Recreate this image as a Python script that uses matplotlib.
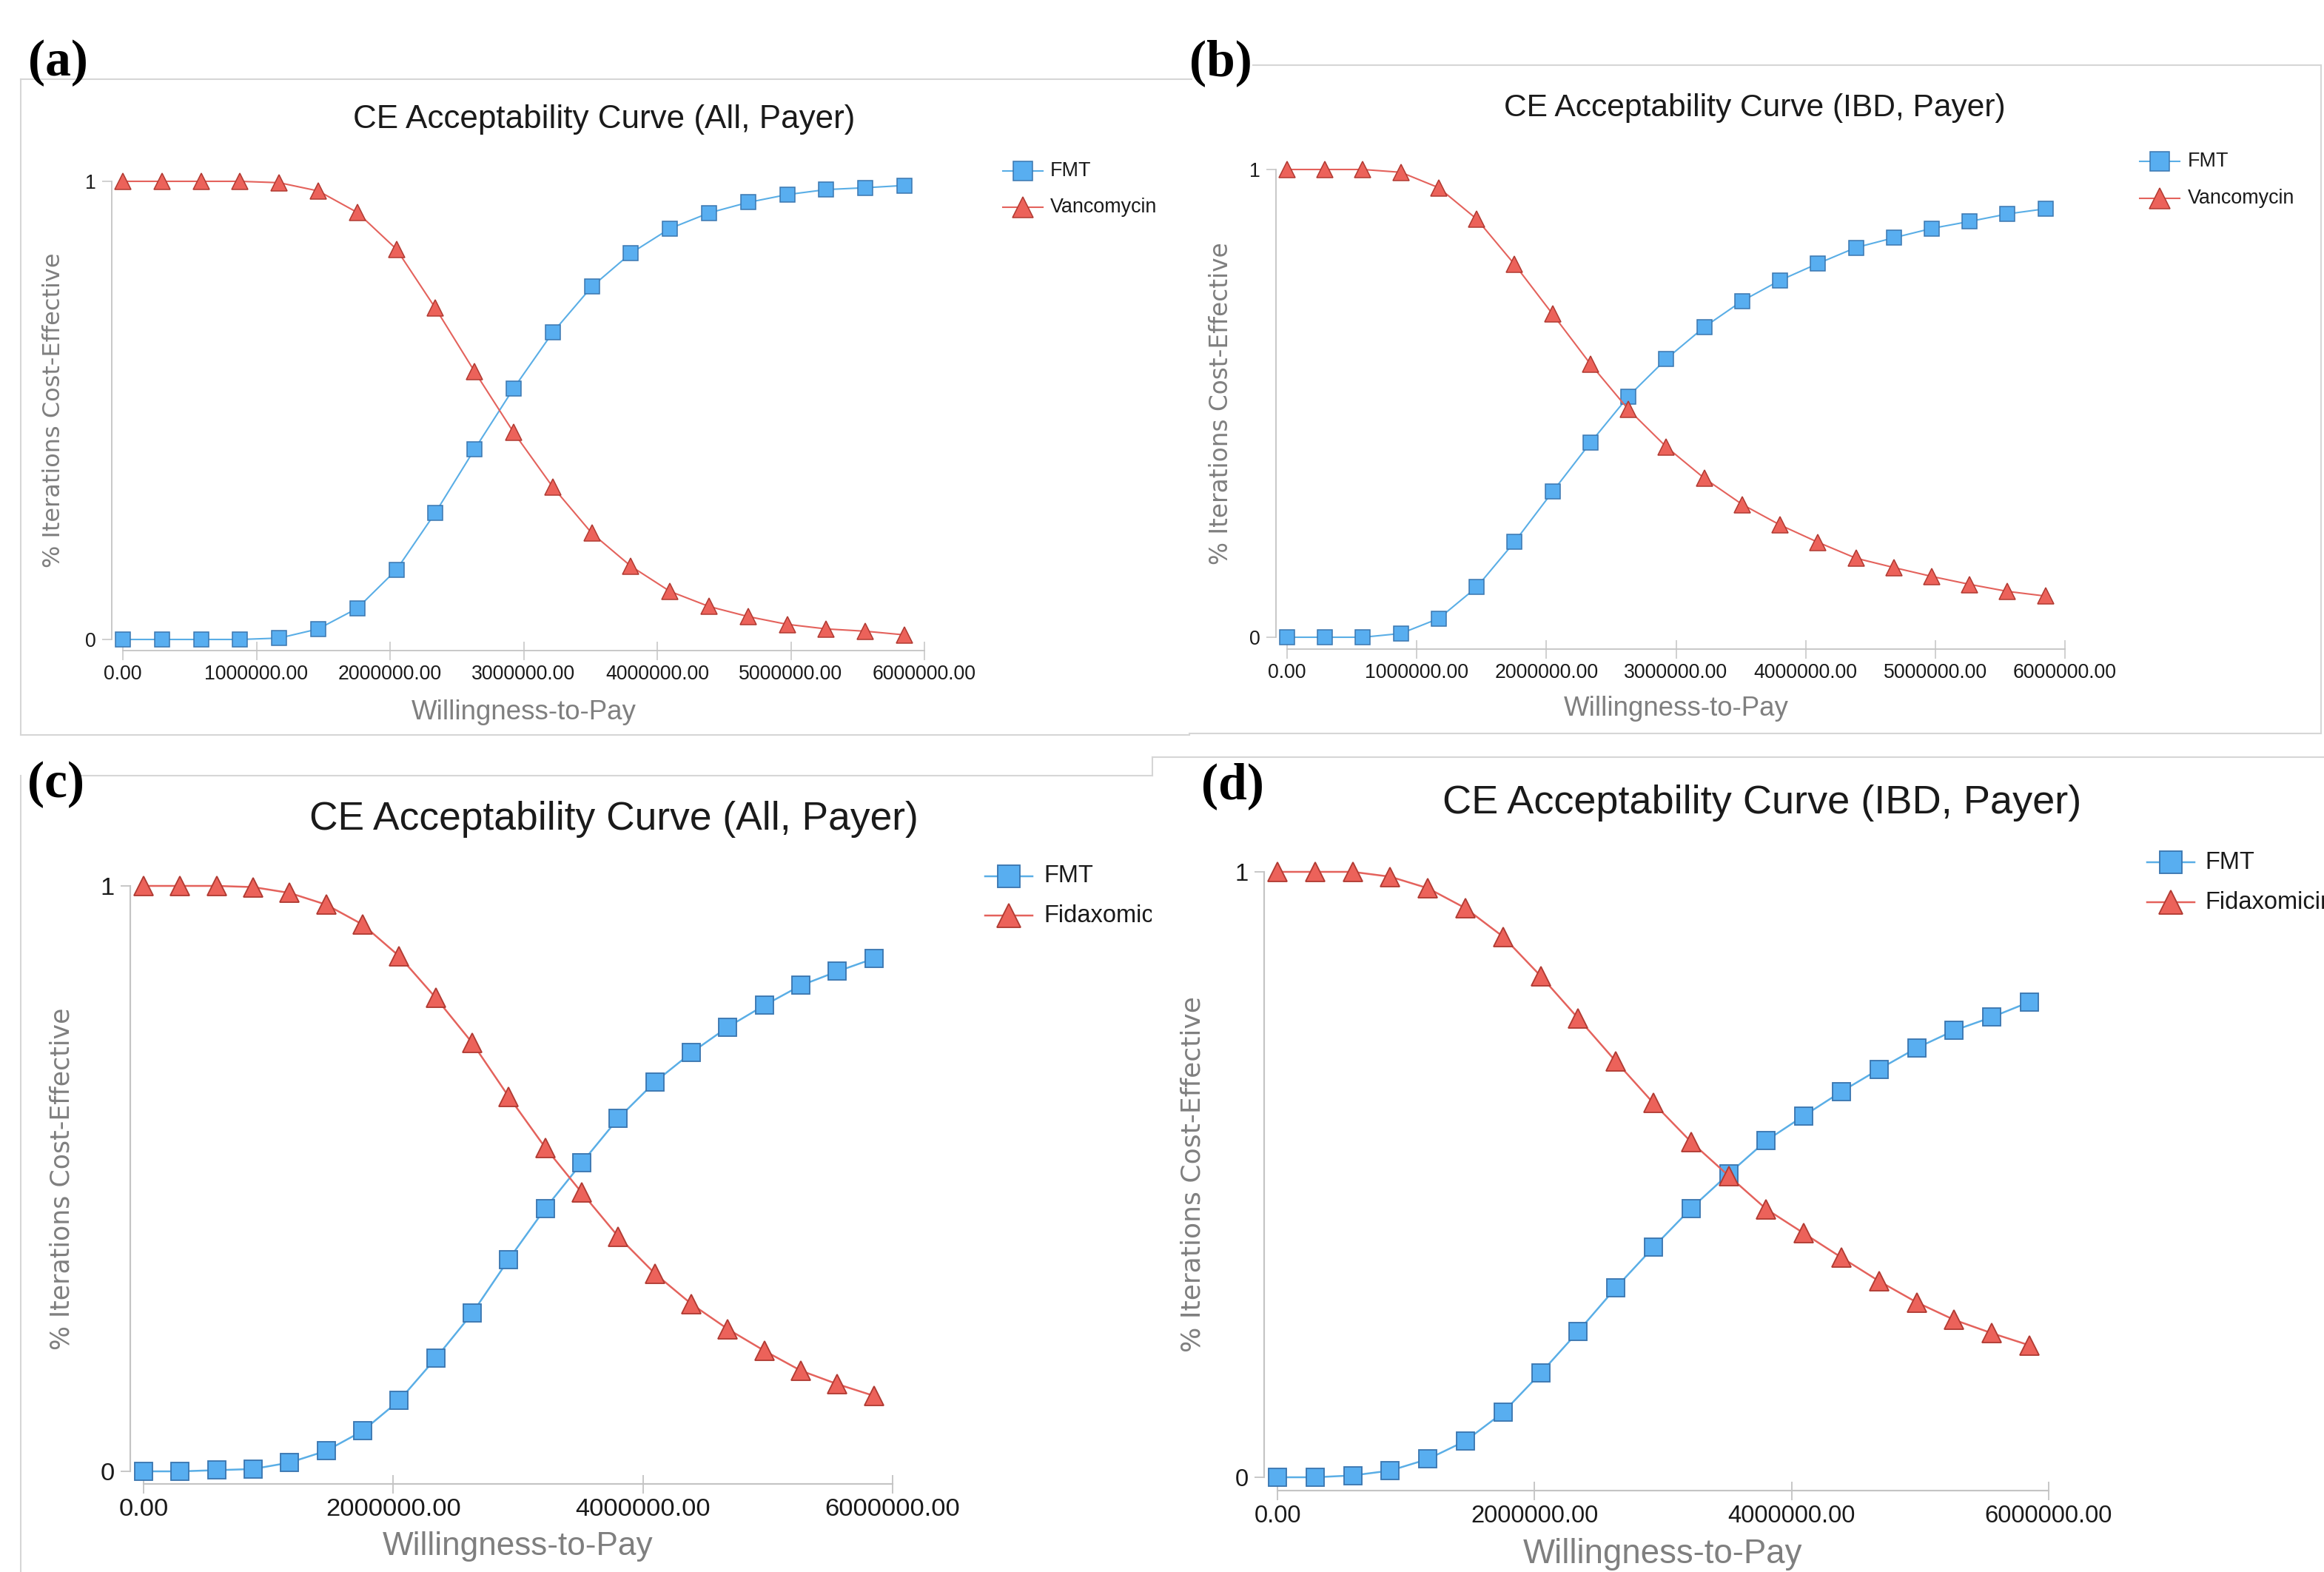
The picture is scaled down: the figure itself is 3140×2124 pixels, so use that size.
"""Four CE acceptability curves (FMT vs Vancomycin / Fidaxomicin), laid out
like the original composite of screenshots: (a) (b) on top, (c) (d) below."""
import matplotlib

matplotlib.use("Agg")

import matplotlib.pyplot as plt  # noqa: E402
from matplotlib.lines import Line2D  # noqa: E402
from matplotlib.transforms import Bbox  # noqa: E402

# --- data (willingness-to-pay grid, 21 points) ---
WTP = [0, 292500, 585000, 877500, 1170000, 1462500, 1755000, 2047500,
       2340000, 2632500, 2925000, 3217500, 3510000, 3802500, 4095000,
       4387500, 4680000, 4972500, 5265000, 5557500, 5850000]

# (a) All, Payer: FMT vs Vancomycin
FMT_A = [0, 0, 0, 0, 0.003, 0.023, 0.068, 0.152, 0.277, 0.415, 0.548,
         0.670, 0.770, 0.843, 0.897, 0.931, 0.954, 0.971, 0.982, 0.986, 0.991]
VANC_A = [1, 1, 1, 1, 0.997, 0.979, 0.932, 0.852, 0.723, 0.585, 0.452,
          0.333, 0.232, 0.160, 0.105, 0.072, 0.050, 0.033, 0.023, 0.018, 0.010]

# (b) IBD, Payer: FMT vs Vancomycin
FMT_B = [0, 0, 0, 0.008, 0.040, 0.107, 0.204, 0.311, 0.416, 0.515, 0.595,
         0.663, 0.719, 0.763, 0.799, 0.833, 0.854, 0.874, 0.889, 0.905, 0.916]
VANC_B = [1, 1, 1, 0.994, 0.961, 0.894, 0.797, 0.691, 0.584, 0.487, 0.407,
          0.340, 0.284, 0.240, 0.203, 0.169, 0.149, 0.130, 0.113, 0.098, 0.088]

# (c) All, Payer: FMT vs Fidaxomicin
FMT_C = [0, 0, 0.002, 0.004, 0.015, 0.035, 0.069, 0.121, 0.193, 0.270, 0.362,
         0.449, 0.527, 0.603, 0.665, 0.715, 0.759, 0.796, 0.830, 0.854, 0.876]
FIDA_C = [1, 1, 1, 0.998, 0.988, 0.968, 0.934, 0.880, 0.809, 0.732, 0.640,
          0.553, 0.476, 0.401, 0.338, 0.286, 0.243, 0.206, 0.172, 0.149, 0.129]

# (d) IBD, Payer: FMT vs Fidaxomicin
FMT_D = [0, 0, 0.003, 0.011, 0.030, 0.060, 0.107, 0.172, 0.241, 0.313, 0.380,
         0.444, 0.501, 0.556, 0.597, 0.637, 0.674, 0.709, 0.738, 0.760, 0.785]
FIDA_D = [1, 1, 1, 0.992, 0.973, 0.940, 0.893, 0.828, 0.758, 0.687, 0.618,
          0.554, 0.498, 0.443, 0.403, 0.363, 0.324, 0.289, 0.260, 0.238, 0.218]

TITLES = ["CE Acceptability Curve (All, Payer)", "CE Acceptability Curve (IBD, Payer)",
          "CE Acceptability Curve (All, Payer)", "CE Acceptability Curve (IBD, Payer)"]
PANEL_LABELS = ["(a)", "(b)", "(c)", "(d)"]
COMPARATORS = ["Vancomycin", "Vancomycin", "Fidaxomicin", "Fidaxomicin"]
XTICKS_FINE = [0, 1000000, 2000000, 3000000, 4000000, 5000000, 6000000]
XTICKS_COARSE = [0, 2000000, 4000000, 6000000]

W, H = 3140, 2124
BLUE_FILL, BLUE_EDGE, BLUE_LINE = "#58AEF0", "#3A76B0", "#5AAEE6"
RED_FILL, RED_EDGE, RED_LINE = "#EC625A", "#B03A32", "#E4625C"
AXIS_GREY = "#C4C4C4"
LABEL_GREY = "#7F7F7F"
BOX_GREY = "#D6D6D6"
SANS = "Liberation Sans"


def fx(px):
    return px / W


def fy(py):
    return 1 - py / H


# Pixel geometry of each screenshot (measured on the full-size reference).
# spine_x, x0 (wtp=0), x6 (wtp=6M), y1 (value 1), y0 (value 0), ybase (x-axis line)
# scale = how much bigger that screenshot was pasted (markers, line widths)
PANELS = [
    dict(spine=151, x0=166, x6=1249, y1=245, y0=864, ybase=879, scale=1.0,
         title=(816, 162, 31.7), tick=19.2, xlab=(962, 26.4), ylab=(73, 23),
         leg=(1382, 231, 280, 1419, 19.4), lab=(78, 85), xticks=XTICKS_FINE),
    dict(spine=1724, x0=1739, x6=2790, y1=229, y0=861, ybase=877, scale=1.0,
         title=(2371, 146, 30.6), tick=19.2, xlab=(958, 26.4), ylab=(1649, 23.6),
         leg=(2918, 218, 268, 2956, 19.4), lab=(1649, 85), xticks=XTICKS_FINE),
    dict(spine=176, x0=194, x6=1206, y1=1197, y0=1988, ybase=2005, scale=1.2,
         title=(829, 1107, 38.4), tick=24.8, xlab=(2090, 31.8), ylab=(84, 25),
         leg=(1363, 1184, 1237, 1410, 23.5), lab=(75, 1060), xticks=XTICKS_COARSE,
         clip_right=1556),
    dict(spine=1708, x0=1726, x6=2768, y1=1178, y0=1996, ybase=2014, scale=1.2,
         title=(2381, 1085, 39.0), tick=23.6, xlab=(2100, 32.9), ylab=(1612, 26),
         leg=(2933, 1165, 1219, 2979, 23.5), lab=(1665, 1062), xticks=XTICKS_COARSE),
]
SERIES = [(FMT_A, VANC_A), (FMT_B, VANC_B), (FMT_C, FIDA_C), (FMT_D, FIDA_D)]

fig = plt.figure(figsize=(W / 100, H / 100), dpi=100)
fig.patch.set_facecolor("white")

# Faint screenshot borders
box_lines = [
    ((28, 1610), (107, 107)), ((28, 28), (107, 993)), ((28, 1607), (993, 993)),
    ((1693, 3136), (88, 88)), ((3136, 3136), (88, 991)), ((1607, 3136), (991, 991)),
    ((110, 1557), (1048, 1048)), ((1557, 1557), (1023, 1048)), ((28, 28), (1048, 2124)),
    ((1557, 3140), (1023, 1023)),
]
for xs, ys in box_lines:
    fig.add_artist(Line2D([fx(x) for x in xs], [fy(y) for y in ys],
                          transform=fig.transFigure, color=BOX_GREY, lw=1.5))

for i, p in enumerate(PANELS):
    fmt, comp = SERIES[i]
    k = p["scale"]
    span = p["x6"] - p["x0"]
    left, right = p["spine"], p["x6"] + 4
    top, bottom = p["y1"] - 25, p["ybase"]
    ax = fig.add_axes([fx(left), fy(bottom), (right - left) / W, (bottom - top) / H])
    ax.set_xlim((left - p["x0"]) / span * 6e6, (right - p["x0"]) / span * 6e6)
    yspan = p["y0"] - p["y1"]
    ax.set_ylim((p["y0"] - bottom) / yspan, (p["y0"] - top) / yspan)

    ax.plot(WTP, fmt, color=BLUE_LINE, lw=1.5 * k, marker="s", ms=14.5 * k,
            mfc=BLUE_FILL, mec=BLUE_EDGE, mew=1.1 * k, clip_on=False, zorder=3)
    ax.plot(WTP, comp, color=RED_LINE, lw=1.5 * k, marker="^", ms=16 * k,
            mfc=RED_FILL, mec=RED_EDGE, mew=1.1 * k, clip_on=False, zorder=3)

    for side in ("top", "right"):
        ax.spines[side].set_visible(False)
    for side in ("left", "bottom"):
        ax.spines[side].set_color(AXIS_GREY)
        ax.spines[side].set_linewidth(1.3 * k)
    ax.spines["left"].set_bounds(0, 1)
    ax.spines["bottom"].set_bounds(0, 6e6)

    ax.set_xticks(p["xticks"])
    ax.set_xticklabels([f"{v:.2f}" for v in p["xticks"]])
    ax.set_yticks([0, 1])
    ax.set_yticklabels(["0", "1"])
    ax.tick_params(axis="x", direction="inout", length=18, width=1.1 * k,
                   color=AXIS_GREY, pad=5, labelsize=p["tick"], labelcolor="#1A1A1A")
    ax.tick_params(axis="y", direction="out", length=9.5, width=1.1 * k,
                   color=AXIS_GREY, pad=6, labelsize=p["tick"], labelcolor="#1A1A1A")
    for lbl in ax.get_xticklabels() + ax.get_yticklabels():
        lbl.set_fontfamily(SANS)

    # Title, axis labels and panel letter placed in figure pixels
    tx, ty, ts = p["title"]
    fig.text(fx(tx), fy(ty), TITLES[i], ha="center", va="center",
             fontsize=ts, family=SANS, color="#1A1A1A")
    xl_y, xl_s = p["xlab"]
    fig.text(fx((p["x0"] + p["x6"]) / 2), fy(xl_y), "Willingness-to-Pay",
             ha="center", va="center", fontsize=xl_s, family=SANS, color=LABEL_GREY)
    yl_x, yl_s = p["ylab"]
    fig.text(fx(yl_x), fy((p["y0"] + p["y1"]) / 2), "% Iterations Cost-Effective",
             ha="center", va="center", rotation=90, fontsize=yl_s,
             family="DejaVu Sans", color=LABEL_GREY)
    lx, ly = p["lab"]
    fig.text(fx(lx), fy(ly), PANEL_LABELS[i], ha="center", va="center",
             fontsize=50, family="Liberation Serif", weight="bold", color="black")

    # Legend, drawn by hand to sit where the screenshot puts it
    mx, y_fmt, y_comp, tx0, lsize = p["leg"]
    entries = [(y_fmt, "FMT", "s", 18.5 * k, BLUE_LINE, BLUE_FILL, BLUE_EDGE),
               (y_comp, COMPARATORS[i], "^", 19.5 * k, RED_LINE, RED_FILL, RED_EDGE)]
    for ey, name, mk, msz, lc, fc, ec in entries:
        fig.add_artist(Line2D([fx(mx - 27 * k), fx(mx + 27 * k)], [fy(ey), fy(ey)],
                              transform=fig.transFigure, color=lc, lw=1.5 * k))
        fig.add_artist(Line2D([fx(mx)], [fy(ey)], transform=fig.transFigure,
                              marker=mk, ms=msz, mfc=fc, mec=ec, mew=1.1 * k, ls="none"))
        t = fig.text(fx(tx0), fy(ey), name, ha="left", va="center",
                     fontsize=lsize, family=SANS, color="#1A1A1A")
        if "clip_right" in p:
            t.set_clip_box(Bbox.from_extents(0, 0, p["clip_right"], H))
            t.set_clip_on(True)

fig.savefig("out.png", dpi=100, facecolor="white")
